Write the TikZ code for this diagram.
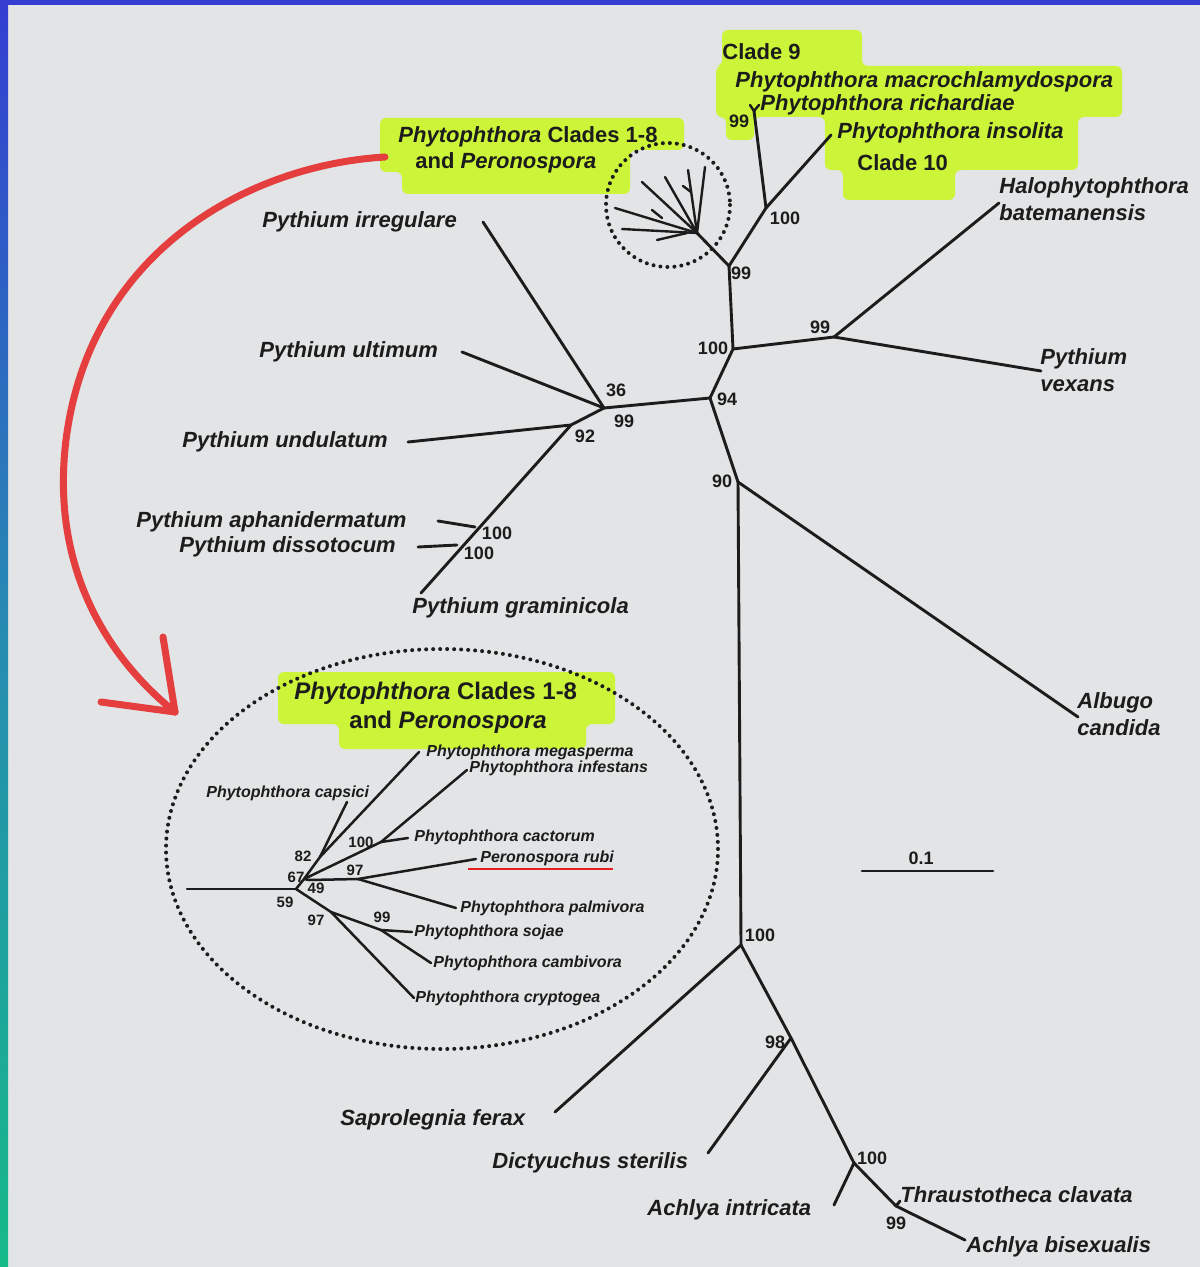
\documentclass[tikz,border=0pt]{standalone}
\usepackage{fontspec}
\setmainfont{Liberation Sans}
\usepackage{tikz}
\usetikzlibrary{positioning}
\definecolor{paper}{RGB}{226,228,229}
\definecolor{frameblue}{RGB}{52,62,210}
\definecolor{frameteal}{RGB}{38,140,178}
\definecolor{framegreen}{RGB}{22,186,136}
\definecolor{marker}{RGB}{204,244,56}
\definecolor{ink}{RGB}{28,28,28}
\definecolor{redpen}{RGB}{228,62,62}
\definecolor{underline}{RGB}{232,30,30}
\tikzstyle{branch} = [
  draw=ink,
  line width=1.45pt,
  line cap=round,
]
\tikzstyle{twig} = [
  draw=ink,
  line width=1.25pt,
  line cap=round,
]
\tikzstyle{thin twig} = [
  draw=ink,
  line width=1.2pt,
  line cap=round,
]
\tikzstyle{taxon} = [
  font=\fontsize{11}{13.5}\selectfont\bfseries\itshape,
  text=ink,
  inner sep=0pt,
  anchor=west,
  align=left,
]
\tikzstyle{small taxon} = [
  font=\fontsize{8}{9}\selectfont\bfseries\itshape,
  text=ink,
  inner sep=0pt,
  anchor=west,
]
\tikzstyle{clade} = [
  font=\fontsize{11}{13}\selectfont\bfseries,
  text=ink,
  inner sep=0pt,
  anchor=west,
]
\tikzstyle{support} = [
  font=\fontsize{9}{10}\selectfont\bfseries,
  text=ink,
  inner sep=0pt,
]
\tikzstyle{small support} = [
  font=\fontsize{7.5}{8}\selectfont\bfseries,
  text=ink,
  inner sep=0pt,
]
\tikzstyle{highlight} = [
  fill=marker,
  rounded corners=3pt,
]
\tikzstyle{ring} = [
  draw=ink,
  line width=2pt,
  line cap=round,
  dash pattern=on 0pt off 3.5pt,
]
\tikzstyle{pen} = [
  draw=redpen,
  line width=3.5pt,
  line cap=round,
  line join=round,
]

\begin{document}
\begin{tikzpicture}[
    x=0.5pt,
    y=-0.5pt,
  ]
  \useasboundingbox (0,0) rectangle (1200,1267);
  \fill[paper] (0,0) rectangle (1200,1267);
  \shade[top color=frameblue, bottom color=framegreen, middle color=frameteal]
    (0,0) rectangle (8,1267);
  \fill[frameblue] (0,0) rectangle (1200,5);

  \fill[highlight] (380,118) -- (684,118) -- (684,150) -- (630,150)
    -- (630,194) -- (402,194) -- (402,172) -- (380,172) -- cycle;
  \fill[highlight] (722,30) -- (862,30) -- (862,66) -- (1122,66)
    -- (1122,117) -- (1078,117) -- (1078,170) -- (955,170) -- (955,200)
    -- (843,200) -- (843,170) -- (825,170) -- (825,117) -- (754,117)
    -- (754,140) -- (726,140) -- (726,117) -- (716,117) -- (716,66)
    -- (722,66) -- cycle;
  \fill[highlight] (278,672) -- (615,672) -- (615,724) -- (586,724)
    -- (586,749) -- (339,749) -- (339,724) -- (278,724) -- cycle;

  \coordinate (ringtop) at (668,205);
  \coordinate (ringbig) at (442,849);
  \draw[ring] (ringtop) circle [radius=62];
  \draw[ring] (ringbig) ellipse [x radius=276, y radius=200];

  \coordinate (n99a) at (729,266);
  \coordinate (n100a) at (766,208);
  \coordinate (e9) at (754,111);
  \coordinate (e9a) at (750,105);
  \coordinate (e9b) at (759,105);
  \coordinate (e10) at (831,135);
  \coordinate (ncl) at (697,233);
  \coordinate (c1) at (615,208);
  \coordinate (c1b) at (652,210);
  \coordinate (c1j) at (662,218);
  \coordinate (c2) at (622,229);
  \coordinate (c2b) at (657,240);
  \coordinate (c2j) at (687,233);
  \coordinate (c3) at (642,182);
  \coordinate (c4) at (665,177);
  \coordinate (c5) at (688,170);
  \coordinate (c5b) at (683,186);
  \coordinate (c5j) at (691,192);
  \coordinate (c6) at (705,167);
  \coordinate (n100b) at (733,349);
  \coordinate (n99b) at (834,337);
  \coordinate (ehalo) at (999,203);
  \coordinate (evex) at (1041,371);
  \coordinate (n94) at (710,398);
  \coordinate (n36) at (604,408);
  \coordinate (eirr) at (483,222);
  \coordinate (eult) at (462,352);
  \coordinate (n92) at (571,425);
  \coordinate (eund) at (408,442);
  \coordinate (n100p) at (475,527);
  \coordinate (eaph) at (438,521);
  \coordinate (n100q) at (457,545);
  \coordinate (edis) at (418,547);
  \coordinate (egra) at (421,593);
  \coordinate (n90) at (738,482);
  \coordinate (ealb) at (1078,717);
  \coordinate (n100c) at (741,945);
  \coordinate (esap) at (555,1112);
  \coordinate (n98) at (791,1038);
  \coordinate (edic) at (708,1153);
  \coordinate (n100d) at (854,1163);
  \coordinate (eain) at (834,1205);
  \coordinate (n99d) at (896,1206);
  \coordinate (ethr) at (900,1201);
  \coordinate (eabi) at (965,1240);

  \path[branch]
    (n99a) edge (n100a) (n100a) edge (e9) (n100a) edge (e10)
    (n99a) edge (ncl) (n99a) edge (n100b)
    (n100b) edge (n99b) (n99b) edge (ehalo) (n99b) edge (evex)
    (n100b) edge (n94) (n94) edge (n36) (n94) edge (n90)
    (n36) edge (eirr) (n36) edge (eult) (n36) edge (n92)
    (n92) edge (eund) (n92) edge (egra)
    (n100p) edge (eaph) (n100q) edge (edis)
    (n90) edge (ealb) (n90) edge (n100c)
    (n100c) edge (esap) (n100c) edge (n98)
    (n98) edge (edic) (n98) edge (n100d)
    (n100d) edge (eain) (n100d) edge (n99d)
    (n99d) edge (ethr) (n99d) edge (eabi);
  \path[thin twig]
    (e9) edge (e9a) (e9) edge (e9b)
    (ncl) edge (c1) (c1j) edge (c1b)
    (ncl) edge (c2) (c2j) edge (c2b)
    (ncl) edge (c3) (ncl) edge (c4)
    (ncl) edge (c5) (c5j) edge (c5b)
    (ncl) edge (c6);

  \coordinate (iroot) at (187,889);
  \coordinate (n59) at (296,889);
  \coordinate (n67) at (304,879);
  \coordinate (n82) at (320,857);
  \coordinate (ecap) at (347,802);
  \coordinate (emeg) at (419,752);
  \coordinate (n100i) at (381,842);
  \coordinate (einf) at (467,770);
  \coordinate (ecac) at (408,838);
  \coordinate (n49) at (309,880);
  \coordinate (n97i) at (358,879);
  \coordinate (erub) at (476,859);
  \coordinate (epal) at (456,908);
  \coordinate (n97j) at (331,912);
  \coordinate (ecry) at (414,998);
  \coordinate (n99i) at (381,930);
  \coordinate (esoj) at (412,932);
  \coordinate (ecam) at (431,963);

  \path[twig]
    (iroot) edge (n59) (n59) edge (n67) (n67) edge (n82)
    (n82) edge (ecap) (n82) edge (emeg)
    (n67) edge (n100i) (n100i) edge (einf) (n100i) edge (ecac)
    (n67) edge (n49) (n49) edge (n97i)
    (n97i) edge (erub) (n97i) edge (epal)
    (n59) edge (n97j) (n97j) edge (ecry) (n97j) edge (n99i)
    (n99i) edge (esoj) (n99i) edge (ecam);

  \coordinate (redstart) at (385,157);
  \coordinate (redbend) at (66,440);
  \coordinate (redtip) at (175,712);
  \coordinate (redbarbup) at (163,637);
  \coordinate (redbarbleft) at (101,702);
  \draw[pen] (redstart) .. controls (250,165) and (90,250) .. (redbend)
    .. controls (50,570) and (110,660) .. (redtip);
  \path[pen] (redtip) edge (redbarbup) (redtip) edge (redbarbleft);

  \node[clade] (cladenine) at (722,52) {Clade 9};
  \node[taxon] (macro) at (735,82) {Phytophthora macrochlamydospora};
  \node[taxon] (richard) at (760,105) {Phytophthora richardiae};
  \node[taxon] (insol) at (837,133) {Phytophthora insolita};
  \node[clade] (cladeten) at (857,163) {Clade 10};
  \node[clade] (topclades) at (398,137) {\textit{Phytophthora} Clades 1-8};
  \node[clade] (toppero) at (415,163) {and \textit{Peronospora}};

  \node[taxon] (halo) at (999,199) {Halophytophthora\\batemanensis};
  \node[taxon] (vexans) at (1040,370) {Pythium\\vexans};
  \node[taxon] (albugo) at (1077,714) {Albugo\\candida};
  \node[taxon] (irreg) at (262,222) {Pythium irregulare};
  \node[taxon] (ultim) at (259,352) {Pythium ultimum};
  \node[taxon] (undul) at (182,442) {Pythium undulatum};
  \node[taxon] (aphan) at (136,522) {Pythium aphanidermatum};
  \node[taxon] (disso) at (179,547) {Pythium dissotocum};
  \node[taxon] (gramin) at (412,608) {Pythium graminicola};
  \node[taxon] (saprol) at (340,1120) {Saprolegnia ferax};
  \node[taxon] (dictyu) at (492,1163) {Dictyuchus sterilis};
  \node[taxon] (intric) at (647,1210) {Achlya intricata};
  \node[taxon] (thraus) at (900,1195) {Thraustotheca clavata};
  \node[taxon] (bisex) at (966,1247) {Achlya bisexualis};

  \node[clade, font=\fontsize{12}{14}\selectfont\bfseries] (ringclades) at (294,693)
    {\textit{Phytophthora} Clades 1-8};
  \node[clade, font=\fontsize{12}{14}\selectfont\bfseries] (ringpero) at (349,722)
    {and \textit{Peronospora}};
  \node[small taxon] (megas) at (426,752) {Phytophthora megasperma};
  \node[small taxon] (infes) at (469,768) {Phytophthora infestans};
  \node[small taxon] (capsi) at (206,793) {Phytophthora capsici};
  \node[small taxon] (cacto) at (414,837) {Phytophthora cactorum};
  \node[small taxon] (rubi) at (480,858) {Peronospora rubi};
  \node[small taxon] (palmi) at (460,908) {Phytophthora palmivora};
  \node[small taxon] (sojae) at (414,932) {Phytophthora sojae};
  \node[small taxon] (cambi) at (433,963) {Phytophthora cambivora};
  \node[small taxon] (crypt) at (415,998) {Phytophthora cryptogea};
  \coordinate (rubiline) at (468,869);
  \coordinate (rubiend) at (613,869);
  \draw[underline, line width=1pt] (rubiline) -- (rubiend);

  \node[support] (s9) at (739,121) {99};
  \node[support] (s10) at (785,218) {100};
  \node[support] (sphy) at (741,273) {99};
  \node[support] (shalo) at (820,327) {99};
  \node[support] (sback) at (713,348) {100};
  \node[support] (s94) at (727,399) {94};
  \node[support] (s36) at (616,390) {36};
  \node[support] (spyt) at (624,421) {99};
  \node[support] (s92) at (585,436) {92};
  \node[support] (saph) at (497,533) {100};
  \node[support] (sdis) at (479,553) {100};
  \node[support] (s90) at (722,481) {90};
  \node[support] (ssap) at (760,935) {100};
  \node[support] (s98) at (775,1042) {98};
  \node[support] (sach) at (872,1158) {100};
  \node[support] (sbis) at (896,1223) {99};

  \node[small support] (s82) at (303,856) {82};
  \node[small support] (s67) at (296,877) {67};
  \node[small support] (s59) at (285,902) {59};
  \node[small support] (s49) at (316,888) {49};
  \node[small support] (s100i) at (361,842) {100};
  \node[small support] (s97i) at (355,870) {97};
  \node[small support] (s97j) at (316,920) {97};
  \node[small support] (s99i) at (382,917) {99};

  \coordinate (barleft) at (862,871);
  \coordinate (barright) at (993,871);
  \draw[branch] (barleft) -- (barright);
  \node[support] (barlabel) at (921,858) {0.1};
\end{tikzpicture}
\end{document}
